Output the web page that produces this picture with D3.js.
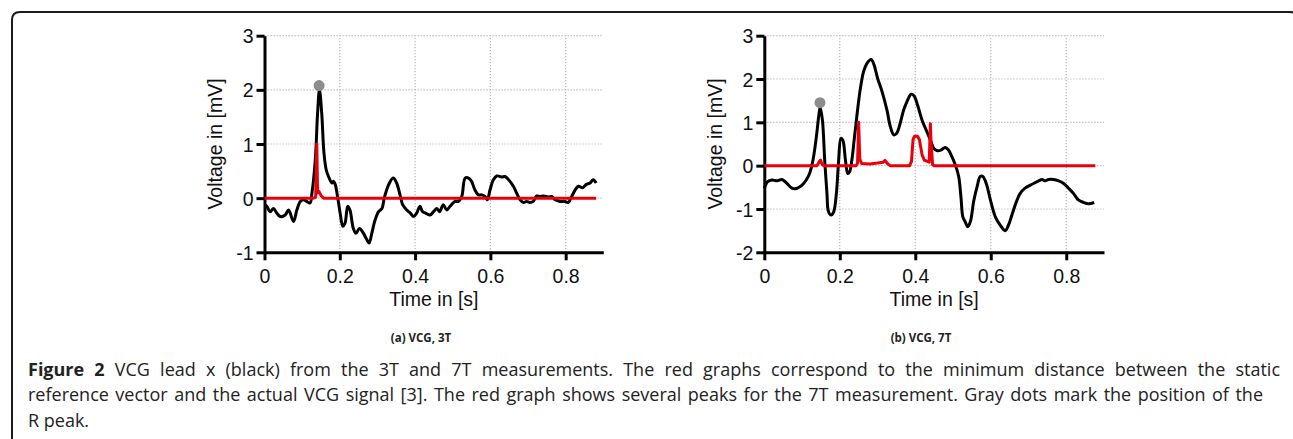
<!DOCTYPE html>
<html><head><meta charset="utf-8">
<script src="https://cdn.jsdelivr.net/npm/d3@7/dist/d3.min.js"></script>
<style>html,body{margin:0;padding:0;background:#fff;}svg{display:block;}</style>
</head><body>
<script>
// ---- Data ----
const timeA = [0,0.006,0.015,0.024,0.033,0.042,0.055,0.064,0.077,0.086,0.095,0.104,0.112,0.121,0.126,0.135,0.141,0.146,0.152,0.158,0.164,0.170,0.179,0.183,0.188,0.194,0.201,0.208,0.214,0.221,0.227,0.236,0.243,0.252,0.263,0.272,0.278,0.285,0.294,0.303,0.312,0.318,0.323,0.332,0.342,0.351,0.360,0.367,0.378,0.388,0.396,0.404,0.413,0.420,0.429,0.440,0.449,0.458,0.465,0.475,0.484,0.493,0.506,0.515,0.524,0.533,0.542,0.550,0.559,0.568,0.577,0.586,0.592,0.599,0.608,0.617,0.630,0.639,0.652,0.661,0.670,0.679,0.688,0.696,0.705,0.714,0.723,0.732,0.741,0.754,0.763,0.772,0.785,0.798,0.807,0.816,0.825,0.834,0.845,0.854,0.865,0.873,0.881];
const voltA = [-0.12,-0.15,-0.25,-0.19,-0.28,-0.34,-0.31,-0.22,-0.43,-0.22,-0.06,-0.03,-0.06,-0.09,0.09,0.71,1.57,2.0,1.57,0.83,0.52,0.40,0.28,0.31,0.25,0.03,-0.28,-0.52,-0.46,-0.15,-0.22,-0.56,-0.65,-0.56,-0.65,-0.77,-0.83,-0.65,-0.40,-0.25,-0.19,0.0,0.12,0.28,0.37,0.28,0.06,-0.12,-0.22,-0.28,-0.34,-0.28,-0.15,-0.25,-0.28,-0.31,-0.25,-0.19,-0.25,-0.12,-0.22,-0.15,-0.06,-0.06,0.03,0.37,0.37,0.31,0.15,0.06,0.06,0.03,-0.03,0.15,0.34,0.41,0.39,0.40,0.31,0.22,0.09,-0.03,-0.08,-0.06,-0.08,-0.06,0.04,0.03,0.04,0.02,0.03,-0.03,-0.06,-0.06,-0.08,0.03,0.15,0.22,0.19,0.25,0.28,0.34,0.28];
const distTimeA = [0,0.130,0.136,0.139,0.141,0.145,0.150,0.157,0.881];
const distA     = [0,0,0.02,1.0,0.10,0.12,0.05,0,0];
const peakA = {t:0.145, v:2.08};

const timeB = [0,0.009,0.020,0.034,0.047,0.060,0.073,0.087,0.100,0.111,0.120,0.129,0.138,0.144,0.148,0.154,0.160,0.166,0.170,0.177,0.184,0.191,0.197,0.203,0.208,0.215,0.221,0.226,0.232,0.238,0.245,0.254,0.263,0.272,0.283,0.291,0.300,0.312,0.325,0.334,0.343,0.351,0.360,0.369,0.378,0.389,0.397,0.406,0.418,0.429,0.440,0.449,0.457,0.468,0.479,0.488,0.497,0.506,0.515,0.521,0.526,0.532,0.539,0.546,0.555,0.564,0.572,0.579,0.588,0.599,0.612,0.625,0.638,0.647,0.656,0.668,0.678,0.691,0.705,0.718,0.727,0.736,0.744,0.753,0.766,0.780,0.793,0.806,0.819,0.832,0.846,0.859,0.874];
const voltB = [-0.52,-0.37,-0.33,-0.35,-0.32,-0.41,-0.52,-0.52,-0.45,-0.33,-0.18,0.13,0.67,1.13,1.35,1.05,0.13,-0.64,-1.06,-1.14,-1.06,-0.64,0.13,0.63,0.59,0.13,-0.18,-0.14,0.13,0.59,1.13,1.75,2.17,2.36,2.45,2.32,2.02,1.71,1.28,0.90,0.71,0.75,0.98,1.28,1.48,1.65,1.61,1.40,1.05,0.82,0.59,0.40,0.35,0.36,0.42,0.36,0.21,0.02,-0.25,-0.72,-1.18,-1.29,-1.41,-1.29,-0.81,-0.48,-0.25,-0.25,-0.41,-0.79,-1.18,-1.37,-1.50,-1.37,-1.14,-0.83,-0.64,-0.52,-0.45,-0.39,-0.35,-0.32,-0.35,-0.32,-0.32,-0.35,-0.41,-0.52,-0.64,-0.79,-0.85,-0.88,-0.85];
const distTimeB = [0,0.140,0.146,0.149,0.153,0.158,0.243,0.247,0.250,0.253,0.258,0.280,0.300,0.315,0.320,0.326,0.333,0.385,0.390,0.394,0.398,0.406,0.411,0.418,0.424,0.432,0.437,0.440,0.442,0.446,0.450,0.877];
const distB     = [0,0,0.10,0.13,0.03,0,0,0.05,1.0,0.15,0.05,0.04,0.06,0.08,0.12,0.05,0,0,0.10,0.60,0.68,0.68,0.60,0.25,0.13,0.10,0.08,0.97,0.50,0.02,0,0];
const peakB = {t:0.1475, v:1.455};

const xTicks = [0,0.2,0.4,0.6,0.8];
const yTicksA = [-1,0,1,2,3];
const yTicksB = [-2,-1,0,1,2,3];
const subLabels = ["(a) VCG, 3T","(b) VCG, 7T"];
const captionBold = "Figure 2";
const captionLines = [
 " VCG lead x (black) from the 3T and 7T measurements. The red graphs correspond to the minimum distance between the static",
 "reference vector and the actual VCG signal [3]. The red graph shows several peaks for the 7T measurement. Gray dots mark the position of the",
 "R peak."
];

// ---- Drawing ----
const W = 1293, H = 439;
const svg = d3.select("body").append("svg").attr("width", W).attr("height", H);
svg.append("rect").attr("width", W).attr("height", H).attr("fill", "#fff");

// border (open at the bottom)
svg.append("path")
  .attr("d", "M12,445 L12,20 Q12,12 20,12 L1290,12 Q1298,12 1298,20 L1298,445")
  .attr("fill", "none").attr("stroke", "#1a1a1a").attr("stroke-width", 2);

const axisFont = "'Liberation Sans', Arial, sans-serif";
const panels = [
  {left:264.5, right:603.3, top:35.7, bottom:252.3, yDom:[-1,3], yTicks:yTicksA,
   t:timeA, v:voltA, dt:distTimeA, d:distA, peak:peakA, label:subLabels[0], labelX:421, yLabX:222},
  {left:764.3, right:1104, top:35.7, bottom:252.3, yDom:[-2,3], yTicks:yTicksB,
   t:timeB, v:voltB, dt:distTimeB, d:distB, peak:peakB, label:subLabels[1], labelX:921, yLabX:722}
];

panels.forEach(p => {
  const x = d3.scaleLinear().domain([0,0.9]).range([p.left,p.right]);
  const y = d3.scaleLinear().domain(p.yDom).range([p.bottom,p.top]);
  const g = svg.append("g");

  // grid
  g.selectAll(".hg").data(p.yTicks.filter(d=>d!==p.yDom[0])).enter().append("line")
    .attr("x1", x(0)).attr("x2", x(0.9)).attr("y1", d=>y(d)).attr("y2", d=>y(d))
    .attr("stroke", "#b5b5b5").attr("stroke-width", 1.2).attr("stroke-dasharray", "1.2,1.8");
  g.selectAll(".vg").data(xTicks.filter(d=>d!==0)).enter().append("line")
    .attr("x1", d=>x(d)).attr("x2", d=>x(d)).attr("y1", y(p.yDom[0])).attr("y2", y(p.yDom[1]))
    .attr("stroke", "#b5b5b5").attr("stroke-width", 1.2).attr("stroke-dasharray", "1.2,1.8");

  // axes
  const fmt = d => String(d);
  const xAxis = d3.axisBottom(x).tickValues(xTicks).tickFormat(fmt).tickSize(8).tickSizeOuter(0);
  const yAxis = d3.axisLeft(y).tickValues(p.yTicks).tickFormat(fmt).tickSize(8).tickSizeOuter(0);
  const gx = g.append("g").attr("transform", `translate(0,${p.bottom})`).call(xAxis);
  const gy = g.append("g").attr("transform", `translate(${p.left},0)`).call(yAxis);
  [gx, gy].forEach(a => {
    a.select(".domain").attr("stroke", "#000").attr("stroke-width", 3);
    a.selectAll(".tick line").attr("stroke", "#000").attr("stroke-width", 3);
    a.selectAll("text").attr("font-family", axisFont).attr("font-size", 19.5).attr("fill", "#111");
  });
  gx.selectAll("text").attr("dy", null).attr("y", 30.5);
  gy.selectAll("text").attr("x", -11).attr("dy", "0.36em");

  // axis titles
  g.append("text").attr("x", (p.left+p.right)/2).attr("y", 305.5).attr("text-anchor","middle")
    .attr("font-family",axisFont).attr("font-size",19.5).attr("fill","#111")
    .text("Time in [s]");
  g.append("text").attr("transform", `translate(${p.yLabX},${(p.top+p.bottom)/2}) rotate(-90)`)
    .attr("text-anchor","middle")
    .attr("font-family",axisFont).attr("font-size",19.5).attr("fill","#111")
    .text("Voltage in [mV]");

  // lines
  const line = d3.line().x(d=>x(d[0])).y(d=>y(d[1])).curve(d3.curveCatmullRom.alpha(0.5));
  const lineLin = d3.line().x(d=>x(d[0])).y(d=>y(d[1]));
  g.append("path").datum(p.t.map((t,i)=>[t,p.v[i]])).attr("d", line)
    .attr("fill","none").attr("stroke","#000").attr("stroke-width",3).attr("stroke-linejoin","round");
  g.append("path").datum(p.dt.map((t,i)=>[t,p.d[i]])).attr("d", lineLin)
    .attr("fill","none").attr("stroke","#e8000b").attr("stroke-width",3).attr("stroke-linejoin","round");
  g.append("circle").attr("cx", x(p.peak.t)).attr("cy", y(p.peak.v)).attr("r", 5.5).attr("fill","#8c8c8c");

  // sub label
  svg.append("text").attr("x", p.labelX).attr("y", 342).attr("text-anchor","middle")
    .attr("font-family","'Open Sans', sans-serif").attr("font-weight","bold").attr("font-size",11.5).attr("fill","#222")
    .text(p.label);
});

// caption: size so line 2 fits its width naturally, then justify line 1 with word spacing
const capFont = "'Open Sans', sans-serif";
const capX = 28, target1 = 1252, target2 = 1235;
const probe = svg.append("text").attr("font-family", capFont).attr("font-size", 17).text(captionLines[1]);
const nat2 = probe.node().getComputedTextLength();
probe.remove();
const capSize = Math.max(15, Math.min(18, 17 * target2 / nat2));

const l1 = svg.append("text").attr("x", capX).attr("y", 376).attr("font-family", capFont)
  .attr("font-size", capSize).attr("fill","#222");
l1.append("tspan").attr("font-weight","bold").text(captionBold);
l1.append("tspan").text(captionLines[0]);
const nat1 = l1.node().getComputedTextLength();
const spaces1 = (captionBold + captionLines[0]).split(" ").length - 1;
l1.attr("word-spacing", Math.max(0, (target1 - nat1) / spaces1));

const l2 = svg.append("text").attr("x", capX).attr("y", 401).attr("font-family", capFont)
  .attr("font-size", capSize).attr("fill","#222").text(captionLines[1]);
const n2 = l2.node().getComputedTextLength();
const spaces2 = captionLines[1].split(" ").length - 1;
l2.attr("word-spacing", Math.max(0, (target2 - n2) / spaces2));

svg.append("text").attr("x", capX).attr("y", 427).attr("font-family", capFont)
  .attr("font-size", capSize).attr("fill","#222").text(captionLines[2]);
</script>
</body></html>
